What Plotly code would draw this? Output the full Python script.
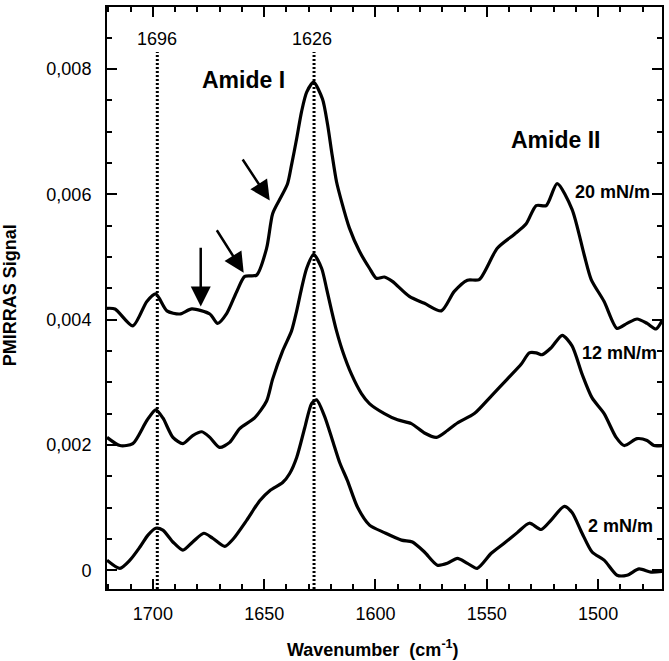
import plotly.graph_objects as go

# ---- data ----
wn_20 = [1720.6, 1717.0, 1709.0, 1702.7, 1698.7, 1693.7, 1687.9, 1682.5, 1674.4, 1670.9,
         1666.8, 1662.3, 1658.7, 1653.4, 1648.9, 1646.2, 1643.0, 1639.5, 1637.7, 1635.4,
         1633.2, 1630.9, 1627.8, 1623.8, 1621.5, 1619.7, 1617.5, 1615.2, 1611.7, 1607.2,
         1602.7, 1599.6, 1596.0, 1592.4, 1584.8, 1578.0, 1570.4, 1564.6, 1558.7, 1553.4,
         1545.3, 1537.7, 1532.3, 1527.8, 1523.3, 1518.4, 1511.7, 1506.3, 1503.1, 1497.3,
         1491.5, 1487.0, 1482.5, 1478.0, 1474.0, 1471.3]
sig_20 = [0.00418, 0.00417, 0.00390, 0.00429, 0.00441, 0.00414, 0.00409, 0.00417, 0.00409, 0.00394,
          0.00410, 0.00445, 0.00469, 0.00471, 0.00514, 0.00569, 0.00592, 0.00617, 0.00647, 0.00689,
          0.00732, 0.00763, 0.00779, 0.00752, 0.00711, 0.00668, 0.00620, 0.00588, 0.00546, 0.00509,
          0.00482, 0.00466, 0.00468, 0.00461, 0.00437, 0.00426, 0.00414, 0.00445, 0.00463, 0.00464,
          0.00514, 0.00536, 0.00553, 0.00582, 0.00582, 0.00617, 0.00576, 0.00504, 0.00464, 0.00429,
          0.00386, 0.00394, 0.00401, 0.00394, 0.00385, 0.00398]

wn_12 = [1720.6, 1714.8, 1709.0, 1702.7, 1698.7, 1695.5, 1691.0, 1686.5, 1682.1, 1678.0,
         1674.4, 1670.0, 1665.5, 1661.0, 1654.3, 1648.9, 1646.2, 1641.7, 1637.7, 1635.4,
         1633.2, 1630.9, 1627.8, 1624.2, 1622.0, 1619.7, 1617.5, 1614.8, 1610.8, 1606.3,
         1602.7, 1596.0, 1590.1, 1583.9, 1578.0, 1572.6, 1567.7, 1563.2, 1555.6, 1548.0,
         1540.8, 1534.5, 1530.9, 1527.8, 1525.1, 1521.1, 1516.1, 1511.7, 1507.2, 1502.7,
         1497.3, 1491.9, 1488.3, 1482.5, 1478.0, 1474.9, 1471.3]
sig_12 = [0.00212, 0.00199, 0.00202, 0.00239, 0.00256, 0.00243, 0.00212, 0.00202, 0.00215, 0.00221,
          0.00212, 0.00196, 0.00204, 0.00226, 0.00243, 0.00270, 0.00305, 0.00350, 0.00382, 0.00414,
          0.00450, 0.00482, 0.00504, 0.00482, 0.00450, 0.00414, 0.00382, 0.00350, 0.00313, 0.00282,
          0.00266, 0.00250, 0.00240, 0.00234, 0.00219, 0.00212, 0.00223, 0.00235, 0.00250, 0.00278,
          0.00305, 0.00329, 0.00347, 0.00347, 0.00344, 0.00355, 0.00375, 0.00358, 0.00313, 0.00275,
          0.00250, 0.00212, 0.00199, 0.00210, 0.00207, 0.00199, 0.00199]

wn_2 = [1720.6, 1714.8, 1710.3, 1705.8, 1702.2, 1698.7, 1695.5, 1691.0, 1686.5, 1682.1,
        1677.1, 1673.1, 1667.7, 1664.1, 1657.8, 1652.0, 1647.5, 1641.7, 1638.6, 1635.4,
        1631.8, 1628.7, 1626.5, 1622.9, 1619.3, 1616.1, 1612.6, 1608.0, 1602.7, 1596.0,
        1588.3, 1583.4, 1578.0, 1572.2, 1567.7, 1563.2, 1558.7, 1554.3, 1548.0, 1542.2,
        1536.3, 1530.9, 1525.6, 1521.1, 1515.2, 1511.7, 1507.2, 1502.7, 1497.3, 1491.5,
        1487.0, 1481.6, 1476.2, 1471.3]
sig_2 = [0.00016, 0.00003, 0.00016, 0.00037, 0.00056, 0.00067, 0.00064, 0.00045, 0.00032, 0.00045,
         0.00059, 0.00051, 0.00038, 0.00049, 0.00080, 0.00111, 0.00127, 0.00140, 0.00154, 0.00180,
         0.00227, 0.00266, 0.00272, 0.00246, 0.00207, 0.00172, 0.00143, 0.00100, 0.00072, 0.00060,
         0.00048, 0.00045, 0.00029, 0.00008, 0.00011, 0.00019, 0.00011, 0.00003, 0.00027, 0.00043,
         0.00060, 0.00075, 0.00065, 0.00080, 0.00102, 0.00092, 0.00059, 0.00029, 0.00016, -0.00008,
         -0.00008, 0.00002, -0.00003, -0.00002]

peak_positions = [1698.0, 1627.6]
peak_labels = ["1696", "1626"]

y_tickvals = [0, 0.002, 0.004, 0.006, 0.008]
y_ticktext = ["0", "0,002", "0,004", "0,006", "0,008"]
x_tickvals = [1700, 1650, 1600, 1550, 1500]
x_ticktext = ["1700", "1650", "1600", "1550", "1500"]

X_RANGE = [1720.6, 1471.3]
Y_RANGE = [-0.0003, 0.00899]

FONT = "Arial, Liberation Sans, sans-serif"

fig = go.Figure()

for wn, sig in [(wn_2, sig_2), (wn_12, sig_12), (wn_20, sig_20)]:
    fig.add_trace(go.Scatter(x=wn, y=sig, mode="lines",
                             line=dict(color="black", width=3.2, shape="spline", smoothing=0.7),
                             showlegend=False, hoverinfo="skip"))

# dotted vertical lines
for xp in peak_positions:
    fig.add_trace(go.Scatter(x=[xp, xp], y=[Y_RANGE[0], 0.00827], mode="lines",
                             line=dict(color="black", width=3, dash="2px,2px"),
                             showlegend=False, hoverinfo="skip"))

annotations = []
for xp, lab in zip([1698.2, 1628.3], peak_labels):
    annotations.append(dict(x=xp, y=0.00848, xref="x", yref="y", text=lab, showarrow=False,
                            font=dict(family=FONT, size=18, color="black")))

annotations += [
    dict(x=1659.2, y=0.00782, xref="x", yref="y", text="<b>Amide I</b>", showarrow=False,
         font=dict(family=FONT, size=23, color="black")),
    dict(x=1519.1, y=0.00687, xref="x", yref="y", text="<b>Amide II</b>", showarrow=False,
         font=dict(family=FONT, size=23, color="black")),
    dict(x=1493.4, y=0.00603, xref="x", yref="y", text="<b>20 mN/m</b>", showarrow=False,
         font=dict(family=FONT, size=18, color="black")),
    dict(x=1490.6, y=0.00347, xref="x", yref="y", text="<b>12 mN/m</b>", showarrow=False,
         font=dict(family=FONT, size=18, color="black")),
    dict(x=1489.9, y=0.00070, xref="x", yref="y", text="<b>2 mN/m</b>", showarrow=False,
         font=dict(family=FONT, size=18, color="black")),
]

# arrows (head x,y ; tail ax,ay)
arrows = [
    (1678.5, 0.00421, 1678.5, 0.00517),
    (1659.2, 0.00475, 1671.7, 0.00545),
    (1647.5, 0.00590, 1660.1, 0.00658),
]
for hx, hy, tx, ty in arrows:
    annotations.append(dict(x=hx, y=hy, ax=tx, ay=ty, xref="x", yref="y", axref="x", ayref="y",
                            text="", showarrow=True, arrowhead=2, arrowsize=1.6, arrowwidth=2.5,
                            arrowcolor="black", standoff=0, startstandoff=0))

# axis titles
annotations.append(dict(x=0.48, y=-0.102, xref="paper", yref="paper",
                        text="<b>Wavenumber  (cm<sup>-1</sup>)</b>", showarrow=False,
                        xanchor="center", yanchor="middle",
                        font=dict(family=FONT, size=18, color="black")))
annotations.append(dict(x=-0.1745, y=0.505, xref="paper", yref="paper",
                        text="<b>PMIRRAS Signal</b>", showarrow=False, textangle=-90,
                        xanchor="center", yanchor="middle",
                        font=dict(family=FONT, size=18, color="black")))

axis_common = dict(showline=True, linewidth=2, linecolor="black", mirror="ticks",
                   ticks="inside", ticklen=10, tickwidth=2, tickcolor="black",
                   showgrid=False, zeroline=False,
                   tickfont=dict(family=FONT, size=18, color="black"))

fig.update_xaxes(range=X_RANGE, tickvals=x_tickvals, ticktext=x_ticktext,
                 minor=dict(dtick=10, tick0=1500, ticks="inside", ticklen=5, tickwidth=1.5,
                            tickcolor="black", showgrid=False),
                 ticklabelstandoff=7, **axis_common)
fig.update_yaxes(range=Y_RANGE, tickvals=y_tickvals, ticktext=y_ticktext,
                 minor=dict(dtick=0.0005, tick0=0, ticks="inside", ticklen=5, tickwidth=1.5,
                            tickcolor="black", showgrid=False),
                 ticklabelstandoff=10, **axis_common)

fig.update_layout(width=669, height=661, margin=dict(l=107, r=6, t=5, b=72),
                  plot_bgcolor="white", paper_bgcolor="white",
                  annotations=annotations, showlegend=False)

fig.write_html("out.html", config={"displayModeBar": False},
               post_script="document.body.style.margin='0';document.body.style.overflow='hidden';")
